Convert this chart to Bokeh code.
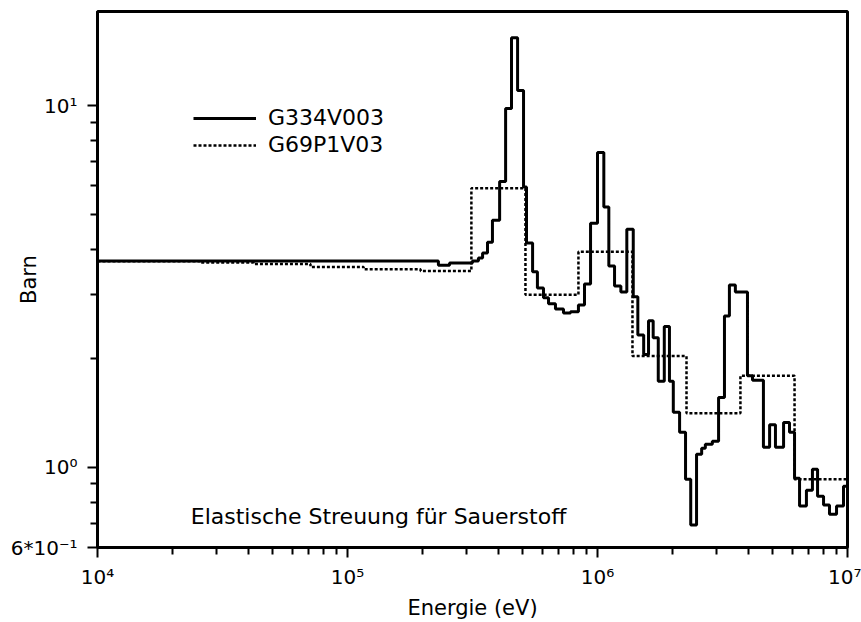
from bokeh.plotting import figure
from bokeh.models import FixedTicker, Label, Legend, LegendItem, Range1d
from bokeh.embed import file_html
from bokeh.resources import INLINE

# ---- data ----
# G334V003 (solid): group boundaries (eV) and elastic cross sections (barn)
g334_edges = [1.0e4, 2.31e5, 2.56e5, 3.16e5, 3.34e5, 3.47e5, 3.63e5, 3.80e5, 4.06e5,
              4.29e5, 4.53e5, 4.79e5, 5.06e5, 5.20e5, 5.50e5, 5.75e5, 6.08e5, 6.37e5,
              6.79e5, 7.31e5, 7.80e5, 8.39e5, 8.87e5, 9.38e5, 1.00e6, 1.06e6, 1.11e6,
              1.17e6, 1.24e6, 1.31e6, 1.39e6, 1.45e6, 1.53e6, 1.60e6, 1.67e6, 1.75e6,
              1.85e6, 1.94e6, 2.01e6, 2.13e6, 2.25e6, 2.36e6, 2.49e6, 2.61e6, 2.70e6,
              2.88e6, 3.05e6, 3.22e6, 3.37e6, 3.56e6, 3.98e6, 4.17e6, 4.61e6, 4.88e6,
              5.15e6, 5.55e6, 5.86e6, 6.14e6, 6.43e6, 6.85e6, 7.24e6, 7.59e6, 8.02e6,
              8.47e6, 9.04e6, 9.64e6, 1.0e7]
g334_sigma = [3.72, 3.62, 3.67, 3.72, 3.79, 3.91, 4.19, 4.82, 6.17, 9.81, 15.4, 11.0,
              5.95, 4.17, 3.47, 3.13, 2.94, 2.83, 2.74, 2.67, 2.69, 2.81, 3.21, 4.73,
              7.42, 5.24, 3.60, 3.17, 3.05, 4.55, 2.96, 2.32, 2.05, 2.54, 2.28, 1.73,
              2.45, 1.73, 1.42, 1.25, 0.927, 0.692, 1.086, 1.128, 1.157, 1.18, 1.56,
              2.62, 3.19, 3.05, 1.79, 1.74, 1.135, 1.31, 1.135, 1.33, 1.25, 0.933,
              0.781, 0.864, 0.987, 0.832, 0.786, 0.742, 0.781, 0.886]

# G69P1V03 (dashed)
g69_edges = [1.0e4, 2.58e4, 4.21e4, 7.11e4, 1.16e5, 1.96e5, 3.13e5, 5.15e5, 8.39e5,
             1.38e6, 2.27e6, 3.73e6, 6.14e6, 1.0e7]
g69_sigma = [3.71, 3.68, 3.65, 3.58, 3.53, 3.49, 5.91, 3.00, 3.94, 2.03, 1.41, 1.79, 0.927]

series_names = ["G334V003", "G69P1V03"]

x_major = [10000, 100000, 1000000, 10000000]
x_major_labels = ["10⁴", "10⁵", "10⁶", "10⁷"]
x_minor = [m * d for d in (1e4, 1e5, 1e6) for m in range(2, 10)]
y_major = [0.6, 1, 10]
y_major_labels = ["6*10⁻¹", "10⁰", "10¹"]
y_minor = [0.7, 0.8, 0.9, 2, 3, 4, 5, 6, 7, 8, 9]

title_text = "Elastische Streuung für Sauerstoff"
x_label = "Energie (eV)"
y_label = "Barn"

FONT = "DejaVu Sans"

p = figure(width=861, height=622, x_axis_type="log", y_axis_type="log",
           x_range=Range1d(1e4, 1e7), y_range=Range1d(0.6, 18.2),
           output_backend="svg", toolbar_location=None,
           min_border_left=97, min_border_right=14, min_border_top=11, min_border_bottom=74)

p.background_fill_color = "white"
p.border_fill_color = "white"
p.outline_line_color = "black"
p.outline_line_width = 3
p.grid.visible = False

r69 = p.step(x=g69_edges, y=g69_sigma + [g69_sigma[-1]], mode="after",
             line_color="black", line_width=2.5, line_dash="3 2")
r334 = p.step(x=g334_edges, y=g334_sigma + [g334_sigma[-1]], mode="after",
              line_color="black", line_width=3)

# axes
p.xaxis.ticker = FixedTicker(ticks=x_major, minor_ticks=x_minor)
p.yaxis.ticker = FixedTicker(ticks=y_major, minor_ticks=y_minor)
p.xaxis.major_label_overrides = dict(zip(x_major, x_major_labels))
p.yaxis.major_label_overrides = dict(zip(y_major, y_major_labels))

for ax in (p.xaxis, p.yaxis):
    ax.axis_line_width = 3
    ax.axis_line_color = "black"
    ax.major_tick_line_width = 2
    ax.minor_tick_line_width = 2
    ax.major_tick_line_color = "black"
    ax.minor_tick_line_color = "black"
    ax.major_tick_out = 10
    ax.major_tick_in = 0
    ax.minor_tick_out = 7
    ax.minor_tick_in = 0
    ax.major_label_text_font = FONT
    ax.major_label_text_font_size = "20px"
    ax.major_label_text_color = "black"
    ax.axis_label_text_font = FONT
    ax.axis_label_text_font_size = "21px"
    ax.axis_label_text_font_style = "normal"
    ax.axis_label_text_color = "black"

p.xaxis.axis_label = x_label
p.yaxis.axis_label = y_label
p.xaxis.major_label_standoff = 7
p.xaxis.axis_label_standoff = 4
p.yaxis.major_label_standoff = 10
p.yaxis.axis_label_standoff = -33

# legend without frame
legend = Legend(items=[LegendItem(label=series_names[0], renderers=[r334]),
                       LegendItem(label=series_names[1], renderers=[r69])],
                location=(96, 390), orientation="vertical",
                border_line_color=None, background_fill_alpha=0,
                padding=0, margin=0, spacing=2,
                glyph_width=63, glyph_height=20, label_height=20, label_standoff=12,
                label_text_font=FONT, label_text_font_size="22px", label_text_color="black")
p.add_layout(legend)

p.add_layout(Label(x=2.36e4, y=0.733, text=title_text, text_font=FONT,
                   text_font_size="22px", text_color="black",
                   text_align="left", text_baseline="alphabetic"))

open("out.html", "w").write(file_html(p, INLINE))
